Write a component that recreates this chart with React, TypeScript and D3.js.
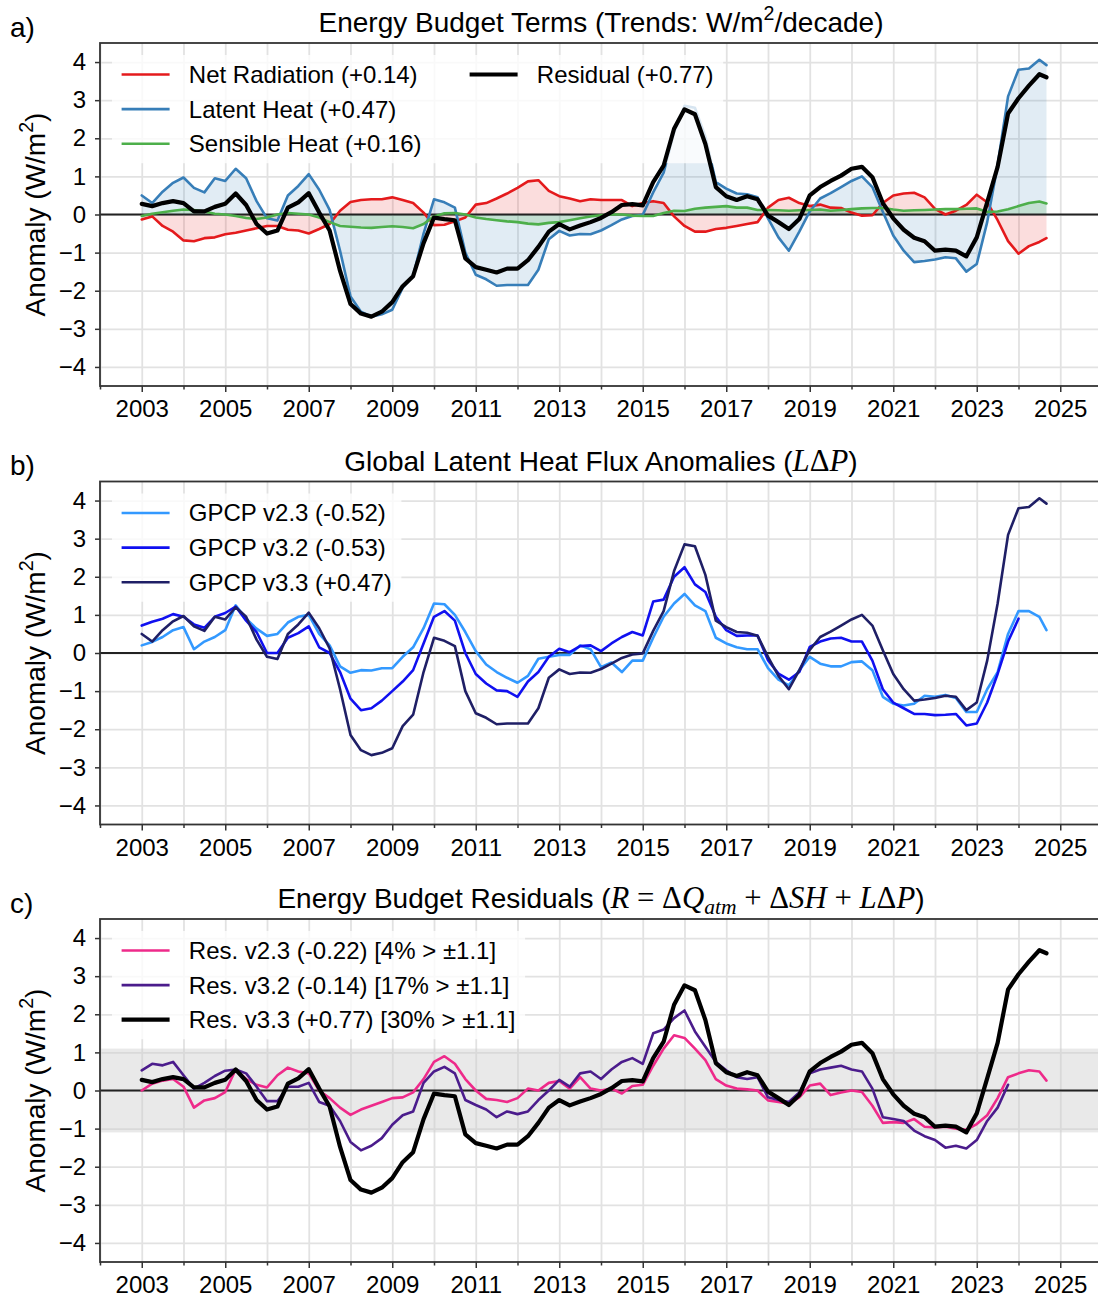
import React, { useEffect, useRef } from "react";
import * as d3 from "d3";

// quarterly time steps (decimal years)
const quarters = [
  2003, 2003.25, 2003.5, 2003.75, 2004, 2004.25, 2004.5, 2004.75,
  2005, 2005.25, 2005.5, 2005.75, 2006, 2006.25, 2006.5, 2006.75,
  2007, 2007.25, 2007.5, 2007.75, 2008, 2008.25, 2008.5, 2008.75,
  2009, 2009.25, 2009.5, 2009.75, 2010, 2010.25, 2010.5, 2010.75,
  2011, 2011.25, 2011.5, 2011.75, 2012, 2012.25, 2012.5, 2012.75,
  2013, 2013.25, 2013.5, 2013.75, 2014, 2014.25, 2014.5, 2014.75,
  2015, 2015.25, 2015.5, 2015.75, 2016, 2016.25, 2016.5, 2016.75,
  2017, 2017.25, 2017.5, 2017.75, 2018, 2018.25, 2018.5, 2018.75,
  2019, 2019.25, 2019.5, 2019.75, 2020, 2020.25, 2020.5, 2020.75,
  2021, 2021.25, 2021.5, 2021.75, 2022, 2022.25, 2022.5, 2022.75,
  2023, 2023.25, 2023.5, 2023.75, 2024, 2024.25, 2024.5, 2024.67,
];

const netRadiation = [
  -0.13, -0.05, -0.3, -0.45, -0.68, -0.7, -0.62, -0.6,
  -0.52, -0.48, -0.42, -0.36, -0.3, -0.3, -0.4, -0.42,
  -0.5, -0.38, -0.25, 0.1, 0.33, 0.38, 0.4, 0.4,
  0.45, 0.38, 0.3, 0.05, -0.28, -0.27, -0.18, -0.08,
  0.26, 0.3, 0.42, 0.55, 0.7, 0.87, 0.9, 0.62,
  0.48, 0.42, 0.35, 0.4, 0.38, 0.38, 0.38, 0.22,
  0.3, 0.35, 0.3, -0.05, -0.3, -0.45, -0.45, -0.38,
  -0.35, -0.3, -0.25, -0.2, 0.18, 0.38, 0.44, 0.3,
  0.22, 0.26, 0.18, 0.17, 0.05, -0.03, -0.02, 0.3,
  0.5, 0.55, 0.57, 0.45, 0.15, 0.0, 0.1, 0.25,
  0.52, 0.32, -0.15, -0.7, -1.03, -0.83, -0.72, -0.62,
];

// also GPCP v3.3 in panel b
const latentHeat = [
  0.5, 0.3, 0.6, 0.83, 0.97, 0.7, 0.58, 0.95,
  0.88, 1.2, 0.95, 0.35, -0.1, -0.16, 0.5, 0.75,
  1.06, 0.65, 0.12, -0.95, -2.15, -2.55, -2.68, -2.62,
  -2.5, -1.92, -1.62, -0.5, 0.4, 0.32, 0.18, -1.0,
  -1.58, -1.7, -1.87, -1.85, -1.85, -1.85, -1.45, -0.65,
  -0.43, -0.55, -0.51, -0.52, -0.42, -0.28, -0.13, -0.04,
  -0.01, 0.58, 1.1, 2.15, 2.85, 2.8, 2.05, 0.85,
  0.68, 0.55, 0.53, 0.45, -0.1, -0.6, -0.95, -0.45,
  0.08, 0.42, 0.56, 0.72, 0.88, 1.0, 0.72, 0.07,
  -0.55, -0.95, -1.25, -1.22, -1.18, -1.12, -1.15, -1.5,
  -1.3, -0.2, 1.3, 3.1, 3.8, 3.83, 4.06, 3.92,
];

const sensibleHeat = [
  -0.04, 0.02, 0.06, 0.1, 0.13, 0.12, 0.08, 0.02,
  0.0, -0.04, -0.09, -0.12, -0.08, 0.0, 0.04, 0.02,
  0.0, -0.08, -0.2, -0.3, -0.32, -0.34, -0.35, -0.33,
  -0.31, -0.33, -0.36, -0.25, -0.05, 0.03, 0.04, 0.0,
  -0.08, -0.12, -0.15, -0.18, -0.2, -0.24, -0.26, -0.22,
  -0.2, -0.15, -0.1, -0.05, -0.02, 0.0, 0.0, -0.03,
  -0.04, -0.04, 0.04, 0.1, 0.09, 0.15, 0.18, 0.2,
  0.22, 0.18, 0.18, 0.12, 0.12, 0.11, 0.1, 0.11,
  0.12, 0.13, 0.1, 0.12, 0.14, 0.16, 0.17, 0.17,
  0.13, 0.1, 0.11, 0.12, 0.13, 0.14, 0.14, 0.15,
  0.16, 0.07, 0.08, 0.14, 0.22, 0.3, 0.34, 0.29,
];

// also Res. v3.3 in panel c
const residual = [
  0.28, 0.22, 0.3, 0.35, 0.3, 0.08, 0.08, 0.2,
  0.28, 0.55, 0.25, -0.25, -0.5, -0.42, 0.18, 0.32,
  0.56, 0.05, -0.42, -1.48, -2.35, -2.6, -2.68, -2.55,
  -2.3, -1.88, -1.62, -0.75, -0.08, -0.12, -0.15, -1.15,
  -1.38, -1.45, -1.52, -1.42, -1.42, -1.2, -0.85, -0.45,
  -0.25, -0.39, -0.29, -0.2, -0.09, 0.06, 0.25, 0.27,
  0.24, 0.85, 1.28, 2.25, 2.76, 2.63, 1.85, 0.72,
  0.48, 0.38, 0.48, 0.4, -0.03, -0.2, -0.38, -0.12,
  0.5, 0.72, 0.88, 1.02, 1.2, 1.25, 0.98, 0.3,
  -0.1, -0.4, -0.61, -0.7, -0.95, -0.92, -0.95, -1.1,
  -0.6, 0.32, 1.25, 2.65, 3.05, 3.38, 3.68, 3.6,
];

const gpcp23 = [
  0.2, 0.29, 0.42, 0.6, 0.68, 0.1, 0.3, 0.42,
  0.6, 1.25, 0.9, 0.64, 0.45, 0.5, 0.8, 0.95,
  1.0, 0.5, 0.2, -0.35, -0.52, -0.45, -0.46, -0.4,
  -0.4, -0.1, 0.15, 0.65, 1.3, 1.28, 1.0, 0.55,
  0.05, -0.3, -0.5, -0.65, -0.78, -0.6, -0.15, -0.1,
  -0.05, -0.05, 0.2, 0.1, -0.37, -0.25, -0.5, -0.2,
  -0.2, 0.4, 0.95, 1.3, 1.55, 1.25, 1.1, 0.4,
  0.25, 0.15, 0.1, 0.1, -0.4, -0.7, -0.85, -0.45,
  -0.1, -0.28, -0.35, -0.35, -0.24, -0.22, -0.45, -1.15,
  -1.33, -1.38, -1.33, -1.12, -1.15, -1.1, -1.18, -1.55,
  -1.55, -0.95, -0.5, 0.5, 1.1, 1.1, 0.95, 0.6,
];

const gpcp32 = [
  0.72, 0.82, 0.9, 1.02, 0.95, 0.75, 0.66, 0.95,
  1.05, 1.22, 0.85, 0.55, 0.0, 0.0, 0.4, 0.52,
  0.7, 0.15, 0.0, -0.5, -1.2, -1.5, -1.45, -1.25,
  -1.0, -0.75, -0.45, 0.25, 0.95, 1.1, 0.85, 0.0,
  -0.55, -0.8, -0.98, -1.0, -1.15, -0.75, -0.5, -0.1,
  0.11, 0.02, 0.18, 0.2, 0.05, 0.25, 0.42, 0.55,
  0.46, 1.35, 1.4, 2.0, 2.25, 1.8, 1.6, 0.95,
  0.6, 0.45, 0.46, 0.46, -0.19, -0.54, -0.7, -0.5,
  0.16, 0.3, 0.38, 0.4, 0.3, 0.3, -0.2, -0.95,
  -1.3, -1.45, -1.6, -1.6, -1.63, -1.62, -1.6, -1.9,
  -1.85, -1.3, -0.55, 0.3, 0.9, null, null, null,
];

const res23 = [
  0.0, 0.18, 0.26, 0.3, 0.1, -0.45, -0.26, -0.2,
  -0.04, 0.55, 0.3, 0.15, 0.08, 0.4, 0.6, 0.5,
  0.45, 0.0, -0.2, -0.45, -0.64, -0.5, -0.4, -0.3,
  -0.2, -0.18, -0.05, 0.3, 0.75, 0.9, 0.7, 0.3,
  0.0, -0.22, -0.25, -0.3, -0.2, 0.05, 0.0, 0.2,
  0.25, 0.05, 0.35, 0.05, 0.0, 0.05, -0.08, 0.12,
  0.15, 0.65, 1.1, 1.45, 1.38, 1.1, 0.8, 0.3,
  0.13, 0.05, 0.03, 0.0, -0.26, -0.3, -0.35, -0.18,
  0.13, 0.18, -0.12, -0.05, 0.0, -0.04, -0.4, -0.85,
  -0.83, -0.85, -0.75, -0.95, -0.97, -0.95, -1.0, -1.03,
  -0.88, -0.65, -0.2, 0.35, 0.45, 0.53, 0.5, 0.26,
];

const res32 = [
  0.53, 0.7, 0.66, 0.75, 0.4, 0.05, 0.2, 0.38,
  0.52, 0.55, 0.45, 0.1, -0.28, -0.28, 0.1, 0.1,
  0.2, -0.3, -0.4, -0.8, -1.35, -1.57, -1.45, -1.25,
  -0.9, -0.65, -0.55, 0.2, 0.5, 0.62, 0.45, -0.25,
  -0.38, -0.5, -0.7, -0.55, -0.62, -0.55, -0.25, 0.0,
  0.28, 0.1, 0.45, 0.5, 0.3, 0.55, 0.75, 0.85,
  0.7, 1.5, 1.6, 1.9, 2.1, 1.55, 1.15, 0.75,
  0.53, 0.35, 0.3, 0.35, -0.18, -0.25, -0.3, -0.05,
  0.45, 0.55, 0.6, 0.65, 0.55, 0.5, 0.05, -0.7,
  -0.75, -0.8, -1.05, -1.2, -1.3, -1.5, -1.45, -1.52,
  -1.3, -0.8, -0.45, 0.15, null, null, null, null,
];

const majorYears = [2003, 2005, 2007, 2009, 2011, 2013, 2015, 2017, 2019, 2021, 2023, 2025];
const minorYears = [2002, 2004, 2006, 2008, 2010, 2012, 2014, 2016, 2018, 2020, 2022, 2024, 2026];
const yTicks = [-4, -3, -2, -1, 0, 1, 2, 3, 4];

const SANS = '"Liberation Sans", Arial, Helvetica, sans-serif';
const SERIF = '"Liberation Serif", "DejaVu Serif", serif';

type Seg = { t: string; math?: boolean; up?: boolean; sup?: boolean; sub?: boolean };
type Series = {
  values: (number | null)[];
  color: string;
  width: number;
  label: string;
  fill?: number;
  top?: boolean;
};
type Panel = { letter: string; title: Seg[]; series: Series[]; cols: number[][]; band?: number };

const panels: Panel[] = [
  {
    letter: "a)",
    title: [{ t: "Energy Budget Terms (Trends: W/m" }, { t: "2", sup: true }, { t: "/decade)" }],
    series: [
      { values: netRadiation, color: "#e41a1c", width: 2.6, label: "Net Radiation (+0.14)", fill: 0.15 },
      { values: latentHeat, color: "#377eb8", width: 2.6, label: "Latent Heat (+0.47)", fill: 0.15 },
      { values: sensibleHeat, color: "#4daf4a", width: 2.6, label: "Sensible Heat (+0.16)", fill: 0.2 },
      { values: residual, color: "#000000", width: 4.2, label: "Residual (+0.77)", top: true },
    ],
    cols: [[0, 1, 2], [3]],
  },
  {
    letter: "b)",
    title: [
      { t: "Global Latent Heat Flux Anomalies (" },
      { t: "L", math: true },
      { t: "Δ", up: true },
      { t: "P", math: true },
      { t: ")" },
    ],
    series: [
      { values: gpcp23, color: "#3399ff", width: 2.6, label: "GPCP v2.3 (-0.52)" },
      { values: gpcp32, color: "#1010f0", width: 2.6, label: "GPCP v3.2 (-0.53)" },
      { values: latentHeat, color: "#1f1f66", width: 2.6, label: "GPCP v3.3 (+0.47)" },
    ],
    cols: [[0, 1, 2]],
  },
  {
    letter: "c)",
    title: [
      { t: "Energy Budget Residuals (" },
      { t: "R", math: true },
      { t: " = Δ", up: true },
      { t: "Q", math: true },
      { t: "atm", math: true, sub: true },
      { t: " + Δ", up: true },
      { t: "SH", math: true },
      { t: " + ", up: true },
      { t: "L", math: true },
      { t: "Δ", up: true },
      { t: "P", math: true },
      { t: ")" },
    ],
    series: [
      { values: res23, color: "#ee2a8a", width: 2.6, label: "Res. v2.3 (-0.22) [4% > ±1.1]" },
      { values: res32, color: "#4b1c8c", width: 2.6, label: "Res. v3.2 (-0.14) [17% > ±1.1]" },
      { values: residual, color: "#000000", width: 4.2, label: "Res. v3.3 (+0.77) [30% > ±1.1]", top: true },
    ],
    cols: [[0, 1, 2]],
    band: 1.1,
  },
];

const W = 1098;
const H = 1297;
const left = 100;
const right = 1102;
const ph = 343;
const tops = [43, 481.5, 919];

function writeSegs(text: any, segs: Seg[], size: number) {
  let shift = 0;
  segs.forEach((s) => {
    const target = s.sup ? -0.42 * size : s.sub ? 0.22 * size : 0;
    const ts = text.append("tspan").text(s.t);
    if (target !== shift) {
      ts.attr("dy", target - shift);
      shift = target;
    }
    const mathSize = s.math || s.up ? size * 1.1 : size;
    if (s.sup || s.sub) ts.attr("font-size", mathSize * 0.7);
    else if (s.math || s.up) ts.attr("font-size", mathSize);
    if (s.math || s.up) ts.attr("font-family", SERIF);
    if (s.math) ts.attr("font-style", "italic");
  });
}

const App = () => {
  const svgRef = useRef<SVGSVGElement>(null);

  useEffect(() => {
    document.body.style.margin = "0";
    const svg = d3.select(svgRef.current);
    svg.selectAll("*").remove();

    const x = d3.scaleLinear().domain([2002, 2026]).range([left, right]);

    panels.forEach((p, pi) => {
      const top = tops[pi];
      const bottom = top + ph;
      const y = d3.scaleLinear().domain([-4.5, 4.5]).range([bottom, top]);
      const g = svg.append("g");

      const clipId = `clip-${pi}`;
      svg.append("clipPath").attr("id", clipId)
        .append("rect").attr("x", left).attr("y", top).attr("width", right - left).attr("height", ph);
      const plot = g.append("g").attr("clip-path", `url(#${clipId})`);

      // grid
      plot.append("g")
        .attr("transform", `translate(0,${bottom})`)
        .call(d3.axisBottom(x).tickValues(majorYears.concat(minorYears)).tickSize(-ph).tickFormat(() => ""))
        .call((a) => a.select(".domain").remove())
        .selectAll("line").attr("stroke", "#e2e2e2").attr("stroke-width", 1.8);
      plot.append("g")
        .attr("transform", `translate(${left},0)`)
        .call(d3.axisLeft(y).tickValues(yTicks).tickSize(-(right - left)).tickFormat(() => ""))
        .call((a) => a.select(".domain").remove())
        .selectAll("line").attr("stroke", "#e2e2e2").attr("stroke-width", 1.8);

      if (p.band) {
        plot.append("rect")
          .attr("x", left).attr("width", right - left)
          .attr("y", y(p.band)).attr("height", y(-p.band) - y(p.band))
          .attr("fill", "#cfcfcf").attr("opacity", 0.45);
      }

      // fills
      p.series.filter((s) => s.fill).forEach((s) => {
        const area = d3.area<number | null>()
          .defined((v) => v != null)
          .x((_, i) => x(quarters[i]))
          .y0(y(0))
          .y1((v) => y(v as number));
        plot.append("path").attr("d", area(s.values)).attr("fill", s.color).attr("opacity", s.fill as number);
      });

      // zero line
      plot.append("line")
        .attr("x1", left).attr("x2", right).attr("y1", y(0)).attr("y2", y(0))
        .attr("stroke", "#222").attr("stroke-width", 1.8);

      const line = d3.line<number | null>()
        .defined((v) => v != null)
        .x((_, i) => x(quarters[i]))
        .y((v) => y(v as number));

      const drawLine = (s: Series) => {
        plot.append("path")
          .attr("d", line(s.values))
          .attr("fill", "none")
          .attr("stroke", s.color)
          .attr("stroke-width", s.width)
          .attr("stroke-linejoin", "round")
          .attr("stroke-linecap", "round");
      };
      p.series.filter((s) => !s.top).forEach(drawLine);

      // legend
      const lg = g.append("g").attr("transform", `translate(${left + 12},${top + 12})`);
      const box = lg.append("rect");
      const pad = 9.6, handle = 48, gap = 19.2, colGap = 48, rowH = 34.6, firstRow = 19.5;
      let colX = pad;
      let lastRight = 0;
      let maxRows = 0;
      p.cols.forEach((col) => {
        let maxW = 0;
        col.forEach((si, r) => {
          const s = p.series[si];
          const cy = firstRow + r * rowH;
          lg.append("line")
            .attr("x1", colX).attr("x2", colX + handle).attr("y1", cy).attr("y2", cy)
            .attr("stroke", s.color).attr("stroke-width", s.width);
          const t = lg.append("text")
            .attr("x", colX + handle + gap).attr("y", cy).attr("dy", "0.35em")
            .attr("font-family", SANS).attr("font-size", 24).attr("fill", "#000")
            .text(s.label);
          const w = (t.node() as SVGTextElement).getComputedTextLength();
          if (w > maxW) maxW = w;
        });
        maxRows = Math.max(maxRows, col.length);
        lastRight = colX + handle + gap + maxW;
        colX = lastRight + colGap;
      });
      box.attr("x", 0).attr("y", 0)
        .attr("width", lastRight + pad)
        .attr("height", firstRow * 2 + rowH * (maxRows - 1))
        .attr("rx", 5)
        .attr("fill", "#fff").attr("opacity", 0.8);

      // lines drawn above the legend frame
      const topPlot = g.append("g").attr("clip-path", `url(#${clipId})`);
      p.series.filter((s) => s.top).forEach((s) => {
        topPlot.append("path")
          .attr("d", line(s.values))
          .attr("fill", "none")
          .attr("stroke", s.color)
          .attr("stroke-width", s.width)
          .attr("stroke-linejoin", "round")
          .attr("stroke-linecap", "round");
      });

      // spines
      g.append("rect")
        .attr("x", left).attr("y", top).attr("width", right - left).attr("height", ph)
        .attr("fill", "none").attr("stroke", "#333").attr("stroke-width", 1.8);

      // axes
      const styleAxis = (a: any) => {
        a.select(".domain").remove();
        a.selectAll("line").attr("stroke", "#333").attr("stroke-width", 1.5);
        a.selectAll("text").attr("font-family", SANS).attr("font-size", 24).attr("fill", "#000");
      };
      g.append("g")
        .attr("transform", `translate(0,${bottom})`)
        .call(d3.axisBottom(x).tickValues(majorYears).tickSize(6).tickPadding(8).tickFormat(d3.format("d")))
        .call(styleAxis);
      g.append("g")
        .attr("transform", `translate(0,${bottom})`)
        .call(d3.axisBottom(x).tickValues(minorYears.filter((v) => v < 2026)).tickSize(3.5).tickFormat(() => ""))
        .call(styleAxis);
      g.append("g")
        .attr("transform", `translate(${left},0)`)
        .call(d3.axisLeft(y).tickValues(yTicks).tickSize(5).tickPadding(9).tickFormat(d3.format("d")))
        .call(styleAxis);

      // title
      const title = g.append("text")
        .attr("x", (left + right) / 2).attr("y", top - 11)
        .attr("text-anchor", "middle")
        .attr("font-family", SANS).attr("font-size", 28).attr("fill", "#000");
      writeSegs(title, p.title, 28);

      // panel letter
      g.append("text")
        .attr("x", 10).attr("y", top - 6.5)
        .attr("font-family", SANS).attr("font-size", 28).attr("fill", "#000")
        .text(p.letter);

      // y label
      const yl = g.append("text")
        .attr("transform", `translate(45,${top + ph / 2}) rotate(-90)`)
        .attr("text-anchor", "middle")
        .attr("font-family", SANS).attr("font-size", 28).attr("fill", "#000");
      writeSegs(yl, [{ t: "Anomaly (W/m" }, { t: "2", sup: true }, { t: ")" }], 28);
    });
  }, []);

  return (
    <div>
      <svg
        ref={svgRef}
        width={W}
        height={H}
        style={{ display: "block", background: "#fff", overflow: "hidden" }}
      ></svg>
    </div>
  );
};

export default App;
